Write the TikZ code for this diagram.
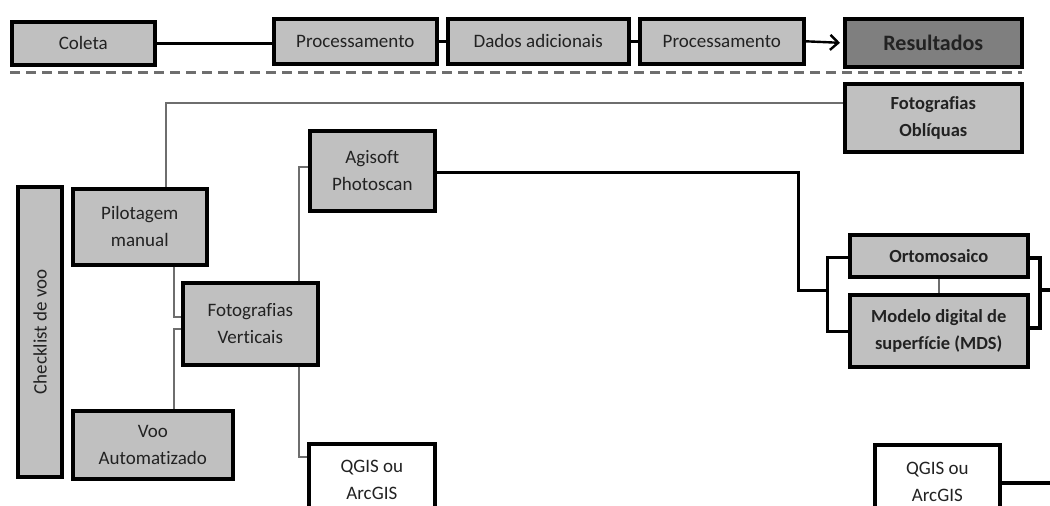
\documentclass[tikz,border=0pt]{standalone}
\usepackage{fontspec}
\setmainfont{Carlito}[Ligatures=NoCommon]
\usetikzlibrary{arrows.meta}
\definecolor{boxgray}{HTML}{C0C0C0}
\definecolor{darkbox}{HTML}{7F7F7F}
\definecolor{txt}{HTML}{222222}
\definecolor{thinc}{HTML}{6E6E6E}
\begin{document}
\begin{tikzpicture}[x=1pt,y=-1pt,
  box/.style={draw=black, line width=3.6pt, fill=boxgray, anchor=north west, align=center,
    inner sep=0pt, text=txt, font=\fontsize{19}{27}\selectfont},
  boldbox/.style={box, font=\fontsize{18.5}{27}\selectfont\bfseries},
  thinline/.style={draw=thinc, line width=1.6pt},
  thickline/.style={draw=black, line width=3pt},
  topline/.style={draw=black, line width=2.4pt},
  dashline/.style={draw=thinc, line width=3pt, dash pattern=on 10pt off 6pt}]
\clip (0,0) rectangle (1050,506);
\fill[white] (0,0) rectangle (1050,506);
% top row
\node[box, minimum width=143, minimum height=43] (coleta) at (10,20) {Coleta};
\node[box, minimum width=163, minimum height=45] (proc1) at (272,17) {Processamento};
\node[box, minimum width=181, minimum height=45] (dados) at (446,17) {Dados adicionais};
\node[box, minimum width=164, minimum height=45] (proc2) at (638,17) {Processamento};
\node[box, fill=darkbox, minimum width=177, minimum height=48, font=\fontsize{22}{27}\selectfont\bfseries] (result) at (843,17) {Resultados};
\draw[topline] (coleta.east) -- (coleta.east -| proc1.west);
\draw[topline] (proc1.east) -- (dados.west);
\draw[topline] (dados.east) -- (proc2.west);
\draw[topline, -{Straight Barb[length=8pt,width=15pt,line width=2.4pt]}] (proc2.east) -- ([xshift=-3pt]result.west);
\coordinate (dl) at (10,72);
\coordinate (dr) at (1022,72);
\draw[dashline] (dl) -- (dr);
% lower part
\node[boldbox, minimum width=177, minimum height=68] (obl) at (843,82) {Fotografias\\Obl\'iquas};
\node[box, minimum width=290, minimum height=44, anchor=center, rotate=90] (check) at (40,332) {Checklist de voo};
\node[box, minimum width=134, minimum height=76] (pil) at (71,187) {Pilotagem\\manual};
\node[box, minimum width=135, minimum height=82] (fv) at (181,281) {Fotografias\\Verticais};
\node[box, minimum width=160, minimum height=68] (voo) at (71,409) {Voo\\Automatizado};
\node[box, minimum width=125, minimum height=80] (agi) at (308,129) {Agisoft\\Photoscan};
\node[box, fill=white, minimum width=126, minimum height=73] (qg1) at (307,442) {QGIS ou\\ArcGIS};
\node[boldbox, minimum width=178, minimum height=42] (orto) at (848,233) {Ortomosaico};
\node[boldbox, minimum width=178, minimum height=72] (mds) at (848,293) {Modelo digital de\\superf\'icie (MDS)};
\node[box, fill=white, minimum width=125, minimum height=74] (qg2) at (873,443) {QGIS ou\\ArcGIS};
% thin connectors
\coordinate (j1) at (166,103);
\draw[thinline] (obl.west |- j1) -- (j1) -- (j1 |- pil.north);
\coordinate (j2) at (174,317);
\draw[thinline] (j2 |- pil.south) -- (j2) -- (j2 -| fv.west);
\coordinate (j3) at (174,329);
\draw[thinline] (j3 |- voo.north) -- (j3) -- (j3 -| fv.west);
\coordinate (j4) at (299,167);
\draw[thinline] (j4 |- fv.north) -- (j4) -- (j4 -| agi.west);
\coordinate (j5) at (299,457);
\draw[thinline] (j5 |- fv.south) -- (j5) -- (j5 -| qg1.west);
\draw[thinline] (orto.south) -- (mds.north);
% thick connectors
\coordinate (j6) at (798,172);
\coordinate (j7) at (798,290);
\coordinate (j8) at (827,290);
\draw[thickline] (agi.east |- j6) -- (j6) -- (j7) -- (j8);
\draw[thickline] ([yshift=-2pt]orto.west) -| (j8) |- ([yshift=-1pt]mds.west);
\coordinate (j9) at (1040,290);
\coordinate (jr) at (1052,290);
\draw[thickline, line width=4pt] ([yshift=-2pt]orto.east) -| (j9) |- ([yshift=3pt]mds.east);
\draw[thickline, line width=4pt] (j9) -- (jr);
\coordinate (j10) at (1052,483);
\draw[thickline, line width=4pt] (qg2.east |- j10) -- (j10);
\end{tikzpicture}
\end{document}
